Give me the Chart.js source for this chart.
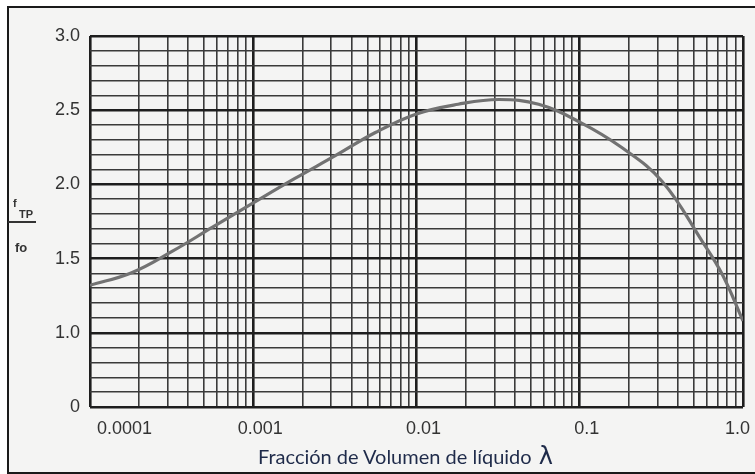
<!DOCTYPE html>
<html>
<head>
<meta charset="utf-8">
<script src="https://cdn.jsdelivr.net/npm/chart.js@4/dist/chart.umd.min.js"></script>
<style>
  html, body { margin: 0; padding: 0; background: #ffffff; }
  #wrap { position: relative; width: 755px; height: 474px; overflow: hidden; }
  #frame { position: absolute; left: 7px; top: 6px; width: 760px; height: 464px;
           border-left: 2px solid #1a1a1a; border-top: 2px solid #1a1a1a; border-bottom: 2px solid #1a1a1a;
           background: #f4f4f3; }
  #c { position: absolute; left: 0; top: 0; }
  #xtitle { position: absolute; left: 258px; top: 444px; font-family: Lato, "Open Sans", sans-serif;
            font-size: 20px; color: #1f2b4a; white-space: nowrap; line-height: 24px; }
  #xtitle .lam { font-size: 24px; margin-left: 7px; font-family: "DejaVu Sans", sans-serif; position: relative; top: 0px; }
  #ytitle { position: absolute; left: 8px; top: 195px; width: 28px; font-family: "Liberation Sans", sans-serif;
            color: #333; font-weight: bold; }
  #ytitle .num { height: 26px; position: relative; }
  #ytitle .num .f { position: absolute; left: 5px; top: 2px; font-size: 11px; }
  #ytitle .num .tp { position: absolute; left: 11px; top: 13px; font-size: 11px; }
  #ytitle .bar { height: 2px; background: #333; width: 28px; }
  #ytitle .den { font-size: 13px; margin-top: 17px; padding-left: 7px; }
</style>
</head>
<body>
<div id="wrap">
  <div id="frame"></div>
  <canvas id="c" width="755" height="474"></canvas>
  <div id="ytitle"><div class="num"><span class="f">f</span><span class="tp">TP</span></div><div class="bar"></div><div class="den">fo</div></div>
  <div id="xtitle">Fracción de Volumen de líquido<span class="lam">λ</span></div>
</div>
<script>
// Liquid volume fraction (λ) and friction factor ratio fTP/fo
const lambdaValues = [0.0001, 0.00018, 0.00032, 0.00056, 0.001, 0.0018, 0.0032, 0.0056,
                      0.01, 0.018, 0.032, 0.056, 0.1, 0.18, 0.32, 0.56, 0.75, 1.0];
const ratioValues = [1.32, 1.405, 1.55, 1.71, 1.875, 2.04, 2.195, 2.35,
                     2.475, 2.54, 2.572, 2.54, 2.42, 2.25, 2.02, 1.62, 1.39, 1.08];

// Axis tick labels
const xDecades = [0.0001, 0.001, 0.01, 0.1, 1.0];
const xDecadeLabels = ['0.0001', '0.001', '0.01', '0.1', '1.0'];
const xMultipliers = [1, 2, 3, 4, 5, 6, 7, 8, 9];
const yMajorValues = [0.5, 1.0, 1.5, 2.0, 2.5, 3.0];
const yMajorLabels = ['0', '1.0', '1.5', '2.0', '2.5', '3.0'];

const isDecade = v => xDecades.some(d => Math.abs(v / d - 1) < 1e-6);
const isYMajor = v => yMajorValues.some(m => Math.abs(v - m) < 1e-6);

const gridMajor = '#1e1e1e';
const gridMinor = '#3a3a3a';

new Chart(document.getElementById('c'), {
  type: 'line',
  data: {
    datasets: [{
      data: lambdaValues.map((x, i) => ({ x: x, y: ratioValues[i] })),
      borderColor: '#727272',
      borderWidth: 3.2,
      pointRadius: 0,
      tension: 0.4,
      fill: false
    }]
  },
  options: {
    responsive: false,
    animation: false,
    events: [],
    layout: { padding: { top: 36, right: 12, left: 0, bottom: 0 } },
    plugins: { legend: { display: false }, tooltip: { enabled: false } },
    scales: {
      x: {
        type: 'logarithmic',
        min: 0.0001,
        max: 1.0,
        afterBuildTicks: (scale) => {
          const ticks = [];
          xDecades.forEach((d, i) => {
            if (i === xDecades.length - 1) { ticks.push({ value: d }); return; }
            xMultipliers.forEach(m => ticks.push({ value: +(d * m).toPrecision(6) }));
          });
          scale.ticks = ticks;
        },
        afterFit: (scale) => { scale.height = 67; },
        border: { display: false },
        grid: {
          drawTicks: false,
          color: (ctx) => isDecade(ctx.tick.value) ? gridMajor : gridMinor,
          lineWidth: (ctx) => isDecade(ctx.tick.value) ? 2.6 : 1.6
        },
        ticks: {
          autoSkip: false,
          maxRotation: 0,
          minRotation: 0,
          align: 'inner',
          labelOffset: 7,
          padding: 11,
          color: '#333333',
          font: { family: '"Liberation Sans", sans-serif', size: 18 },
          callback: (value) => {
            const i = xDecades.findIndex(d => Math.abs(value / d - 1) < 1e-6);
            return i >= 0 ? xDecadeLabels[i] : '';
          }
        }
      },
      y: {
        type: 'linear',
        min: 0.5,
        max: 3.0,
        afterFit: (scale) => { scale.width = 90; },
        border: { display: false },
        grid: {
          drawTicks: false,
          color: (ctx) => isYMajor(ctx.tick.value) ? gridMajor : gridMinor,
          lineWidth: (ctx) => isYMajor(ctx.tick.value) ? 2.6 : 1.6
        },
        ticks: {
          stepSize: 0.1,
          autoSkip: false,
          padding: 10,
          color: '#333333',
          font: { family: '"Liberation Sans", sans-serif', size: 18 },
          callback: (value) => {
            const i = yMajorValues.findIndex(m => Math.abs(value - m) < 1e-6);
            return i >= 0 ? yMajorLabels[i] : '';
          }
        }
      }
    }
  }
});
</script>
</body>
</html>
